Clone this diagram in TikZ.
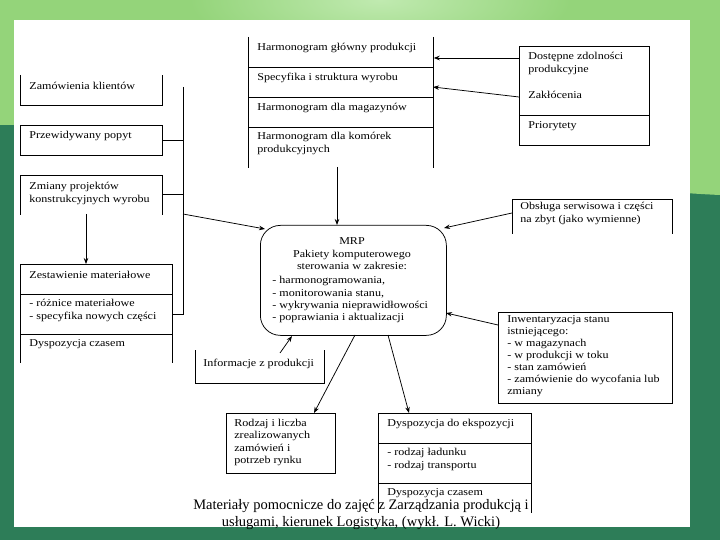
\documentclass[tikz,border=0pt]{standalone}
\usepackage{fontspec}
\setmainfont{Liberation Serif}[FakeStretch=1.15]
\newfontfamily\footfont{Liberation Serif}
\usetikzlibrary{arrows.meta,calc}
\definecolor{bglight}{RGB}{148,212,122}
\definecolor{bgglow}{RGB}{192,234,176}
\definecolor{bgdark}{RGB}{45,125,88}
\begin{document}
\begin{tikzpicture}[x=1pt,y=-1pt,line width=0.75pt,
  txt/.style={font=\fontsize{10.5}{12.6}\selectfont,inner sep=0pt,align=left,anchor=north west},
  ctxt/.style={font=\fontsize{10.5}{12.8}\selectfont,inner sep=0pt,align=center,anchor=north},
  boxn/.style={inner sep=0pt,anchor=north west},
  arr/.style={-{Stealth[length=6pt,width=4.5pt]}}]
\useasboundingbox (0,0) rectangle (720,540);
% background
\fill[bgdark] (0,0) rectangle (720,540);
\fill[bglight] (0,0) -- (720,0) -- (720,195) .. controls (500,185) and (220,120) .. (0,125) -- cycle;
\shade[inner color=bgglow,outer color=bglight] (380,0) ellipse (190 and 60);
\fill[white] (14,20) rectangle (690,527);

% ---------- left column ----------
\node[boxn,minimum width=142pt,minimum height=30pt] (zam) at (20,75) {};
\draw (zam.north west) -- (zam.south west) -- (zam.south east) -- (zam.north east);
\node[txt] (zamt) at (29,82) {Zamówienia klientów};

\node[boxn,minimum width=142pt,minimum height=30pt,draw] (popyt) at (20,125) {};
\node[txt] (popytt) at (29,131) {Przewidywany popyt};

\node[boxn,minimum width=142pt,minimum height=39pt] (zmiany) at (20,175) {};
\draw (zmiany.south west) -- (zmiany.north west) -- (zmiany.north east) -- (zmiany.south east);
\node[txt] (zmianyt) at (29,182) {Zmiany projektów\\konstrukcyjnych wyrobu};

\node[boxn,minimum width=152pt,minimum height=98pt] (zest) at (20,264) {};
\draw (zest.south west) -- (zest.north west) -- (zest.north east) -- (zest.south east);
\draw (20,294) -- (172,294);
\draw (20,334) -- (172,334);
\node[txt] (zest1) at (29,271) {Zestawienie materiałowe};
\node[txt] (zest2) at (29,299) {- różnice materiałowe\\- specyfika nowych części};
\node[txt] (zest3) at (29,339) {Dyspozycja czasem};

% bracket
\coordinate (brkT) at (183,87);
\coordinate (brkB) at (183,314);
\coordinate (brkA) at (183,214);
\draw (brkT) -- (brkB) -- (brkB -| zest.east);
\draw (popyt.east) -- (popyt.east -| brkT);
\draw (zmiany.east) -- (zmiany.east -| brkT);
\coordinate (zmD) at (86,214);
\draw[arr] (zmD) -- (zmD |- zest.north);

% ---------- top stack ----------
\node[boxn,minimum width=185pt,minimum height=130pt] (stack) at (248,37) {};
\draw (stack.north west) -- (stack.south west);
\draw (stack.north east) -- (stack.south east);
\draw (248,67) -- (433,67);
\draw (248,97) -- (433,97);
\draw (248,127) -- (433,127);
\node[txt] (st1) at (257,43) {Harmonogram główny produkcji};
\node[txt] (st2) at (257,73) {Specyfika i struktura wyrobu};
\node[txt] (st3) at (257,103) {Harmonogram dla magazynów};
\node[txt] (st4) at (257,132) {Harmonogram dla komórek\\produkcyjnych};

% ---------- right top ----------
\node[boxn,minimum width=130pt,minimum height=99pt,draw] (dost) at (519,46) {};
\draw (519,115) -- (649,115);
\node[txt] (dost1) at (528,52) {Dostępne zdolności\\produkcyjne};
\node[txt] (dost2) at (528,91) {Zakłócenia};
\node[txt] (dost3) at (528,121) {Priorytety};
\coordinate (dA) at (519,58);
\coordinate (dB) at (519,97);
\coordinate (stB) at (433,87);
\draw[arr] (dA) -- (dA -| stack.east);
\draw[arr] (dB) -- (stB);

% ---------- MRP ----------
\node[boxn,draw,rounded corners=20pt,minimum width=186pt,minimum height=110pt] (mrp) at (260,225) {};
\node[ctxt] (mrpt) at (352,237) {MRP\\Pakiety komputerowego\\sterowania w zakresie:};
\node[txt,font=\fontsize{10.5}{12.4}\selectfont] (mrpl) at (272,276) {- harmonogramowania,\\- monitorowania stanu,\\- wykrywania nieprawidłowości\\- poprawiania i aktualizacji};
\coordinate (stD) at (337,167);
\draw[arr] (stD) -- (stD |- mrp.north);
\coordinate (mrpL) at (265,229);
\draw[arr] (brkA) -- (mrpL);

% ---------- right middle ----------
\node[boxn,minimum width=160pt,minimum height=34pt] (obs) at (512,199) {};
\draw (obs.south west) -- (obs.north west) -- (obs.north east) -- (obs.south east);
\node[txt] (obst) at (520,202) {Obsługa serwisowa i części\\na zbyt (jako wymienne)};
\coordinate (obsA) at (512,213);
\coordinate (mrpR1) at (444,228);
\draw[arr] (obsA) -- (mrpR1);

\node[boxn,minimum width=174pt,minimum height=91pt,draw] (inw) at (498,312) {};
\node[txt,font=\fontsize{10.5}{12.1}\selectfont] (inwt) at (507,315) {Inwentaryzacja stanu\\istniejącego:\\- w magazynach\\- w produkcji w toku\\- stan zamówień\\- zamówienie do wycofania lub\\zmiany};
\coordinate (inwA) at (498,325);
\coordinate (mrpR2) at (446,313);
\draw[arr] (inwA) -- (mrpR2);

% ---------- bottom ----------
\node[boxn,minimum width=129pt,minimum height=33pt] (info) at (195,350) {};
\draw (info.north west) -- (info.south west) -- (info.south east) -- (info.north east);
\node[txt] (infot) at (203,359) {Informacje z produkcji};
\coordinate (infA) at (280,353);
\coordinate (mrpB1) at (292,336);
\draw[arr] (infA) -- (mrpB1);

\node[boxn,minimum width=109pt,minimum height=60pt,draw] (rodz) at (226,413) {};
\node[txt,font=\fontsize{10.5}{12.3}\selectfont] (rodzt) at (234,419) {Rodzaj i liczba\\zrealizowanych\\zamówień i\\potrzeb rynku};
\coordinate (mrpB2) at (355,335);
\coordinate (rodzT) at (314,413);
\draw[arr] (mrpB2) -- (rodzT);

\node[boxn,minimum width=153pt,minimum height=99pt] (dysp) at (378,413) {};
\draw (dysp.south west) -- (dysp.north west) -- (dysp.north east) -- (dysp.south east);
\draw (378,443) -- (531,443);
\draw (378,483) -- (531,483);
\node[txt] (dysp1) at (387,419) {Dyspozycja do ekspozycji};
\node[txt] (dysp2) at (387,448) {- rodzaj ładunku\\- rodzaj transportu};
\node[txt] (dysp3) at (387,488) {Dyspozycja czasem};
\coordinate (mrpB3) at (388,335);
\coordinate (dyspT) at (409,413);
\draw[arr] (mrpB3) -- (dyspT);

% footer
\node[font=\footfont\fontsize{14.5}{17}\selectfont,align=center,inner sep=0pt] (foot) at (361,515) {Materiały pomocnicze do zajęć z Zarządzania produkcją i\\usługami, kierunek Logistyka, (wykł. L. Wicki)};
\end{tikzpicture}
\end{document}
